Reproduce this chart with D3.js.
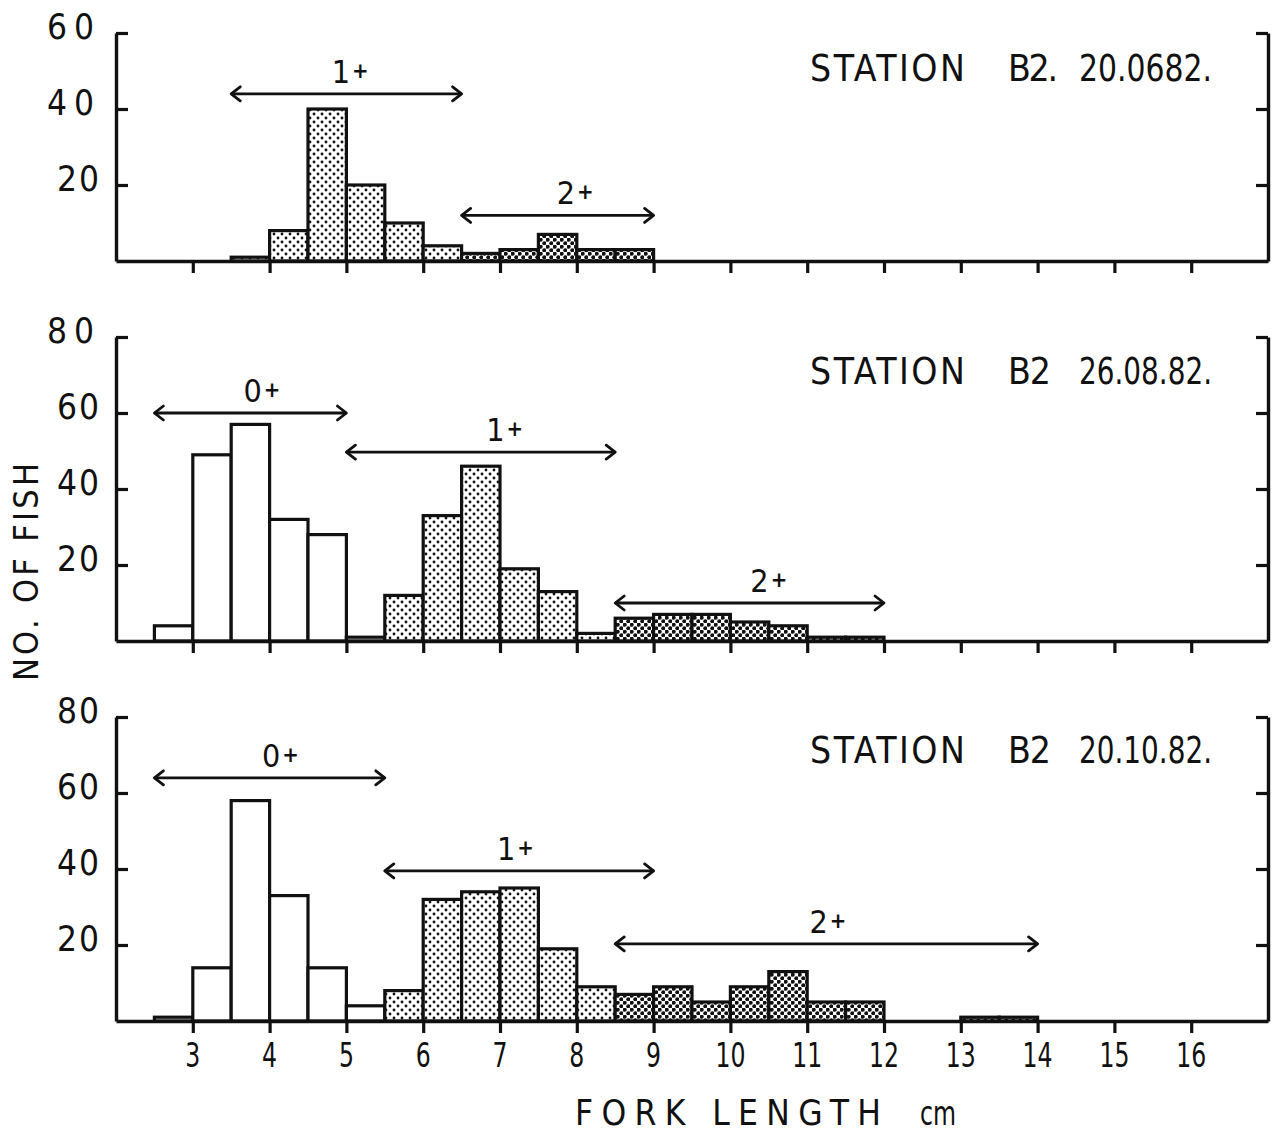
<!DOCTYPE html>
<html>
<head>
<meta charset="utf-8">
<script src="https://cdn.jsdelivr.net/npm/d3@7/dist/d3.min.js"></script>
<style>
  html, body { margin: 0; padding: 0; background: #fff; }
  svg { display: block; }
  text { font-family: "DejaVu Sans Condensed", "DejaVu Sans", sans-serif; fill: #111; }
</style>
</head>
<body>
<svg id="chart" width="1283" height="1137"></svg>
<script>
// ---------------- DATA ----------------
const binWidth = 0.5;               // cm
const xTickValues = [3,4,5,6,7,8,9,10,11,12,13,14,15,16];

// Panel 1: STATION B2 20.06.82
const p1Title = ["STATION", "B2.", "20.0682."];
const p1Start = 3.5;
const p1Counts = [1, 8, 40, 20, 10, 4, 2, 3, 7, 3, 3];
const p1Cohort = ["1+","1+","1+","1+","1+","1+","2+","2+","2+","2+","2+"];
const p1YTicks = [20, 40, 60];
const p1YMax = 60;

// Panel 2: STATION B2 26.08.82
const p2Title = ["STATION", "B2", "26.08.82."];
const p2Start = 2.5;
const p2Counts = [4, 49, 57, 32, 28, 1, 12, 33, 46, 19, 13, 2, 6, 7, 7, 5, 4, 1, 1];
const p2Cohort = ["0+","0+","0+","0+","0+","0+","1+","1+","1+","1+","1+","1+","2+","2+","2+","2+","2+","2+","2+"];
const p2YTicks = [20, 40, 60, 80];
const p2YMax = 80;

// Panel 3: STATION B2 20.10.82
const p3Title = ["STATION", "B2", "20.10.82."];
const p3Start = 2.5;
const p3Counts = [1, 14, 58, 33, 14, 4, 8, 32, 34, 35, 19, 9, 7, 9, 5, 9, 13, 5, 5, 0, 0, 1, 1];
const p3Cohort = ["0+","0+","0+","0+","0+","0+","1+","1+","1+","1+","1+","1+","2+","2+","2+","2+","2+","2+","2+","2+","2+","2+","2+"];
const p3YTicks = [20, 40, 60, 80];
const p3YMax = 80;

// Age-group ranges (cm) marked with double arrows: [label, from, to, level(count units), labelX(cm)]
const p1Groups = [["1", 3.5, 6.5, 44, 5.05], ["2", 6.5, 9.0, 12, 7.98]];
const p2Groups = [["0", 2.5, 5.0, 60, 3.9], ["1", 5.0, 8.5, 49.7, 7.06], ["2", 8.5, 12.0, 10, 10.5]];
const p3Groups = [["0", 2.5, 5.5, 64, 4.14], ["1", 5.5, 9.0, 39.5, 7.2], ["2", 8.5, 14.0, 20.3, 11.27]];

// ---------------- LAYOUT ----------------
const svg = d3.select("#chart");
const xLeft = 116, xRight = 1268;
const x = d3.scaleLinear().domain([2, 17]).range([xLeft, xRight]);

const panels = [
  { title: p1Title, start: p1Start, counts: p1Counts, cohort: p1Cohort, yTicks: p1YTicks, yMax: p1YMax, groups: p1Groups, base: 261, top: 33, titleY: 81, tickSpaced: [40, 60] },
  { title: p2Title, start: p2Start, counts: p2Counts, cohort: p2Cohort, yTicks: p2YTicks, yMax: p2YMax, groups: p2Groups, base: 641, top: 337, titleY: 384, tickSpaced: [80] },
  { title: p3Title, start: p3Start, counts: p3Counts, cohort: p3Cohort, yTicks: p3YTicks, yMax: p3YMax, groups: p3Groups, base: 1021, top: 717, titleY: 763, tickSpaced: [] }
];

// patterns
const defs = svg.append("defs");
const sparse = defs.append("pattern").attr("id", "sparse").attr("patternUnits", "userSpaceOnUse")
  .attr("width", 8).attr("height", 8);
sparse.append("rect").attr("width", 8).attr("height", 8).attr("fill", "#fff");
sparse.append("circle").attr("cx", 2).attr("cy", 2).attr("r", 1.4).attr("fill", "#111");
sparse.append("circle").attr("cx", 6).attr("cy", 6).attr("r", 1.4).attr("fill", "#111");

const dense = defs.append("pattern").attr("id", "dense").attr("patternUnits", "userSpaceOnUse")
  .attr("width", 7).attr("height", 7);
dense.append("rect").attr("width", 7).attr("height", 7).attr("fill", "#fff");
dense.append("circle").attr("cx", 1.75).attr("cy", 1.75).attr("r", 2.0).attr("fill", "#111");
dense.append("circle").attr("cx", 5.25).attr("cy", 5.25).attr("r", 2.0).attr("fill", "#111");

const arrowHead = defs.append("marker").attr("id", "chev")
  .attr("markerUnits", "userSpaceOnUse").attr("viewBox", "-12 -9 15 18")
  .attr("refX", 0).attr("refY", 0).attr("markerWidth", 15).attr("markerHeight", 18)
  .attr("orient", "auto-start-reverse");
arrowHead.append("path").attr("d", "M-9,-7 L0,0 L-9,7").attr("fill", "none")
  .attr("stroke", "#111").attr("stroke-width", 2.8).attr("stroke-linecap", "round").attr("stroke-linejoin", "round");

const fillFor = c => c === "0+" ? "#fff" : (c === "1+" ? "url(#sparse)" : "url(#dense)");

panels.forEach(p => {
  const y = d3.scaleLinear().domain([0, p.yMax]).range([p.base, p.top]);
  const g = svg.append("g");

  // bars
  const bars = p.counts.map((v, i) => ({ x0: p.start + i * binWidth, v, c: p.cohort[i] })).filter(d => d.v > 0);
  g.selectAll("rect.bar").data(bars).enter().append("rect")
    .attr("class", "bar")
    .attr("x", d => x(d.x0))
    .attr("width", d => x(d.x0 + binWidth) - x(d.x0))
    .attr("y", d => y(d.v))
    .attr("height", d => y(0) - y(d.v))
    .attr("fill", d => fillFor(d.c))
    .attr("stroke", "#111").attr("stroke-width", 3.2);

  const axisStyle = sel => {
    sel.select(".domain").attr("stroke", "#111").attr("stroke-width", 3.4);
    sel.selectAll(".tick line").attr("stroke", "#111").attr("stroke-width", 3.2);
  };

  // bottom axis (ticks down)
  const xAxis = d3.axisBottom(x).tickValues(xTickValues).tickSize(12).tickSizeOuter(0).tickFormat("");
  g.append("g").attr("transform", `translate(0,${p.base})`).call(xAxis).call(axisStyle);

  // left axis (ticks inward)
  const yAxisL = d3.axisRight(y).tickValues(p.yTicks).tickSize(12).tickSizeOuter(0).tickFormat("");
  g.append("g").attr("transform", `translate(${xLeft},0)`).call(yAxisL).call(axisStyle);

  // right axis (ticks inward)
  const yAxisR = d3.axisLeft(y).tickValues(p.yTicks).tickSize(12).tickSizeOuter(0).tickFormat("");
  g.append("g").attr("transform", `translate(${xRight},0)`).call(yAxisR).call(axisStyle);

  // y tick labels
  g.selectAll("text.ytl").data(p.yTicks).enter().append("text")
    .attr("class", "ytl")
    .attr("x", 101).attr("y", d => y(d) + 6)
    .attr("text-anchor", "end")
    .attr("font-size", 35)
    .attr("letter-spacing", d => p.tickSpaced.includes(d) ? 7 : 2)
    .text(d => d);

  // title
  g.append("text").attr("x", 810).attr("y", p.titleY).attr("font-size", 37)
    .attr("textLength", 155).attr("lengthAdjust", "spacing").text(p.title[0]);
  g.append("text").attr("x", 1008).attr("y", p.titleY).attr("font-size", 37)
    .attr("textLength", p.title[1].length > 2 ? 50 : 43).attr("lengthAdjust", "spacing").text(p.title[1]);
  g.append("text").attr("x", 1079).attr("y", p.titleY).attr("font-size", 37)
    .attr("textLength", 133).attr("lengthAdjust", "spacingAndGlyphs").text(p.title[2]);

  // age groups
  p.groups.forEach(([lab, a, b, lvl, lx]) => {
    g.append("line")
      .attr("x1", x(a)).attr("x2", x(b)).attr("y1", y(lvl)).attr("y2", y(lvl))
      .attr("stroke", "#111").attr("stroke-width", 2.8)
      .attr("marker-start", "url(#chev)").attr("marker-end", "url(#chev)");
    const t = g.append("text").attr("x", x(lx)).attr("y", y(lvl) - 11)
      .attr("text-anchor", "middle").attr("font-size", 32);
    t.append("tspan").text(lab);
    t.append("tspan").attr("font-size", 22).attr("font-weight", "bold").attr("dx", 2).attr("dy", -5).text("+");
  });
});

// bottom x tick labels (last panel)
svg.selectAll("text.xtl").data(xTickValues).enter().append("text")
  .attr("class", "xtl")
  .attr("x", d => x(d)).attr("y", 1067)
  .attr("text-anchor", "middle").attr("font-size", 34)
  .attr("textLength", d => d >= 10 ? 30 : 15).attr("lengthAdjust", "spacingAndGlyphs")
  .text(d => d);

// axis titles
svg.append("text").attr("x", 575).attr("y", 1125).attr("font-size", 35)
  .attr("textLength", 306).attr("lengthAdjust", "spacing").text("FORK LENGTH");
svg.append("text").attr("x", 920).attr("y", 1125).attr("font-size", 33)
  .attr("textLength", 36).attr("lengthAdjust", "spacingAndGlyphs").text("cm");
svg.append("text").attr("transform", "translate(38,681) rotate(-90)").attr("font-size", 34)
  .attr("textLength", 218).attr("lengthAdjust", "spacing").text("NO. OF FISH");
</script>
</body>
</html>
